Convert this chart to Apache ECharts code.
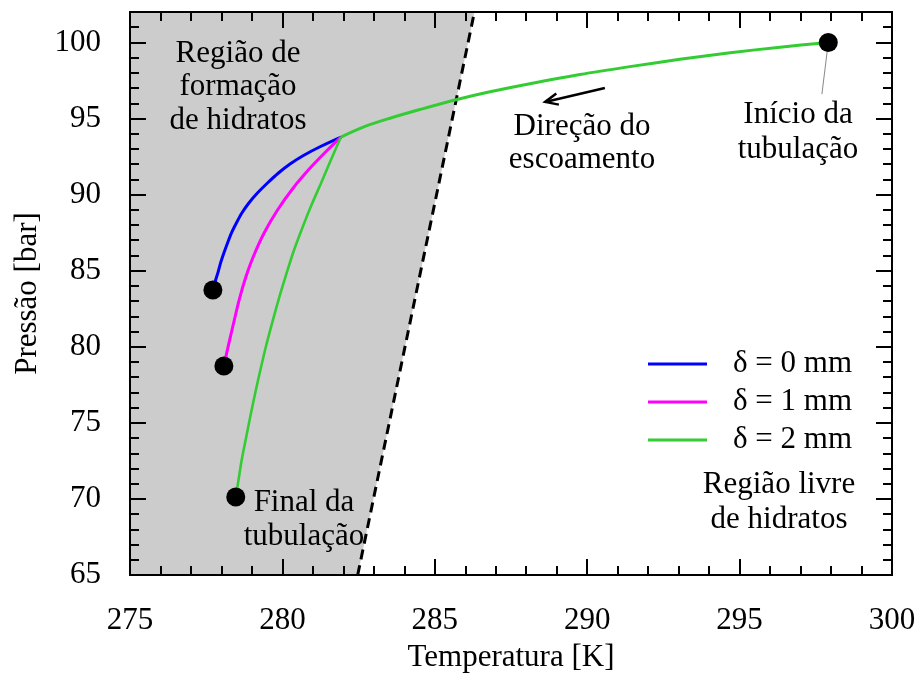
<!DOCTYPE html>
<html>
<head>
<meta charset="utf-8">
<script src="https://cdn.jsdelivr.net/npm/echarts@6/dist/echarts.min.js"></script>
<style>
  html, body { margin: 0; padding: 0; background: #fff; }
  #chart { width: 918px; height: 673px; }
</style>
</head>
<body>
<div id="chart"></div>
<script>
// Common path of the pipeline (inlet down to where the cases split)
const trunkT = [297.91, 296.33, 294.69, 293.04, 291.40, 289.76, 288.12, 286.81, 285.66, 284.51, 283.53, 282.71, 281.92];
const trunkP = [100.0, 99.69, 99.32, 98.89, 98.41, 97.89, 97.29, 96.76, 96.22, 95.59, 95.02, 94.48, 93.78];

// Branches after the split, one per deposit thickness
const blueT = [281.92, 281.25, 280.69, 280.25, 279.87, 279.51, 279.18, 278.90, 278.67, 278.49, 278.33, 278.20, 278.08, 277.97, 277.89, 277.80, 277.72];
const blueP = [93.78, 93.16, 92.57, 92.01, 91.42, 90.76, 90.10, 89.45, 88.79, 88.13, 87.48, 86.82, 86.16, 85.50, 84.91, 84.32, 83.73];

const magentaT = [281.92, 281.48, 280.94, 280.38, 279.84, 279.40, 279.04, 278.80, 278.58, 278.40, 278.23, 278.08];
const magentaP = [93.78, 92.93, 91.81, 90.50, 88.99, 87.48, 85.90, 84.58, 83.07, 81.56, 80.11, 78.73];

const greenT = [281.92, 281.59, 281.27, 280.94, 280.64, 280.36, 280.12, 279.89, 279.68, 279.48, 279.30, 279.13, 278.97, 278.82, 278.67, 278.56, 278.47];
const greenP = [93.78, 92.27, 90.76, 89.25, 87.74, 86.23, 84.72, 83.20, 81.69, 80.18, 78.67, 77.16, 75.65, 74.13, 72.62, 71.24, 70.13];

const seriesNames = ['δ = 0 mm', 'δ = 1 mm', 'δ = 2 mm'];

// Hydrate equilibrium boundary
const hydrateT = [282.47, 286.3];
const hydrateP = [65, 102];

// Inlet and outlet points
const endT = [297.91, 277.72, 278.08, 278.47];
const endP = [100.0, 83.73, 78.73, 70.13];

// Leader line for the inlet label
const leaderT = [297.91, 297.7];
const leaderP = [100.0, 96.6];

// Flow direction arrow (tail, head)
const arrowT = [290.58, 288.62];
const arrowP = [97.0, 96.09];

const xTicks = [275, 280, 285, 290, 295, 300];
const yTicks = [65, 70, 75, 80, 85, 90, 95, 100];

const FONT = '"Liberation Serif", "Times New Roman", serif';
const FS = 31;

function pairs(xs, ys) { return xs.map((x, i) => [x, ys[i]]); }

const chart = echarts.init(document.getElementById('chart'), null, { renderer: 'canvas' });

const axisLineStyle = { show: true, lineStyle: { color: '#000', width: 2 } };

function xAxisDef(pos, labels) {
  return {
    type: 'value', position: pos, min: xTicks[0], max: xTicks[xTicks.length - 1], interval: 5,
    z: 10,
    axisLine: axisLineStyle,
    axisTick: { show: true, inside: true, length: 16, lineStyle: { color: '#000', width: 2 } },
    minorTick: { show: true, splitNumber: 5, length: 9, lineStyle: { color: '#000', width: 2 } },
    splitLine: { show: false },
    axisLabel: {
      show: labels, fontFamily: FONT, fontSize: FS, color: '#000', margin: 30,
      formatter: v => (xTicks.indexOf(v) >= 0 ? String(v) : '')
    },
    name: labels ? 'Temperatura [K]' : '',
    nameLocation: 'middle', nameGap: 67,
    nameTextStyle: { fontFamily: FONT, fontSize: FS, color: '#000' }
  };
}

function yAxisDef(pos, major, labels) {
  return {
    type: 'value', position: pos, min: 65, max: 102, interval: major ? 5 : 1,
    z: 10,
    axisLine: axisLineStyle,
    axisTick: { show: true, inside: true, length: major ? 16 : 9, lineStyle: { color: '#000', width: 2 } },
    splitLine: { show: false },
    axisLabel: {
      show: labels, fontFamily: FONT, fontSize: FS, color: '#000', margin: 29,
      showMaxLabel: false,
      formatter: v => (yTicks.indexOf(v) >= 0 ? String(v) : '')
    },
    name: labels ? 'Pressão [bar]' : '',
    nameLocation: 'middle', nameGap: 86,
    nameTextStyle: { fontFamily: FONT, fontSize: FS, color: '#000' }
  };
}

const lineBase = { type: 'line', symbol: 'none', smooth: 0.3, z: 4 };

const option = {
  animation: false,
  backgroundColor: '#fff',
  textStyle: { fontFamily: FONT },
  grid: { left: 130, right: 26, top: 12, bottom: 98, containLabel: false, outerBoundsMode: 'none' },
  xAxis: [xAxisDef('bottom', true), xAxisDef('top', false)],
  yAxis: [
    yAxisDef('left', true, true),
    yAxisDef('left', false, false),
    yAxisDef('right', true, false),
    yAxisDef('right', false, false)
  ],
  legend: {
    data: seriesNames,
    orient: 'vertical',
    left: 648, top: 348.5, padding: 0,
    icon: 'rect',
    itemWidth: 59, itemHeight: 3, itemGap: 7,
    textStyle: { fontFamily: FONT, fontSize: FS, color: '#000', padding: [0, 0, 0, 21] }
  },
  series: [
    {
      // hydrate formation region
      type: 'custom', z: 1, silent: true,
      data: [[hydrateT[0], hydrateP[0]]],
      renderItem: (params, api) => {
        const pts = [
          api.coord([xTicks[0], hydrateP[0]]),
          api.coord([hydrateT[0], hydrateP[0]]),
          api.coord([hydrateT[1], hydrateP[1]]),
          api.coord([xTicks[0], hydrateP[1]])
        ];
        return { type: 'polygon', shape: { points: pts }, style: { fill: '#cccccc' } };
      }
    },
    {
      type: 'line', symbol: 'none', z: 3, silent: true,
      data: pairs(hydrateT, hydrateP),
      lineStyle: { color: '#000', width: 3, type: [10, 6] }
    },
    Object.assign({}, lineBase, {
      name: seriesNames[0], data: pairs(blueT, blueP),
      lineStyle: { color: '#0000ff', width: 3 }, itemStyle: { color: '#0000ff' }
    }),
    Object.assign({}, lineBase, {
      name: seriesNames[1], data: pairs(magentaT, magentaP),
      lineStyle: { color: '#ff00ff', width: 3 }, itemStyle: { color: '#ff00ff' }
    }),
    Object.assign({}, lineBase, {
      name: seriesNames[2], data: pairs(greenT, greenP),
      lineStyle: { color: '#33cc33', width: 2.6 }, itemStyle: { color: '#33cc33' }
    }),
    Object.assign({}, lineBase, {
      name: 'trunk', data: pairs(trunkT, trunkP), z: 5,
      lineStyle: { color: '#33cc33', width: 3 }, itemStyle: { color: '#33cc33' }
    }),
    {
      type: 'line', symbol: 'none', z: 5, silent: true,
      data: pairs(leaderT, leaderP),
      lineStyle: { color: '#888888', width: 1 }
    },
    {
      type: 'scatter', z: 6, symbol: 'circle', symbolSize: 19,
      data: pairs(endT, endP),
      itemStyle: { color: '#000', opacity: 1 }
    },
    {
      // flow direction arrow
      type: 'custom', z: 6, silent: true,
      data: [[arrowT[0], arrowP[0], arrowT[1], arrowP[1]]],
      renderItem: (params, api) => {
        const a = api.coord([api.value(0), api.value(1)]);
        const b = api.coord([api.value(2), api.value(3)]);
        const ang = Math.atan2(a[1] - b[1], a[0] - b[0]);
        const L = 14, w = 0.42;
        const h1 = [b[0] + L * Math.cos(ang + w), b[1] + L * Math.sin(ang + w)];
        const h2 = [b[0] + L * Math.cos(ang - w), b[1] + L * Math.sin(ang - w)];
        return {
          type: 'group',
          children: [
            { type: 'line', shape: { x1: a[0], y1: a[1], x2: b[0], y2: b[1] },
              style: { stroke: '#000', lineWidth: 2.5 } },
            { type: 'polyline', shape: { points: [h1, b, h2] },
              style: { stroke: '#000', fill: null, lineWidth: 2.5 } }
          ]
        };
      }
    }
  ],
  graphic: [
    { type: 'text', x: 238, y: 87, z: 100,
      style: { text: 'Região de\nformação\nde hidratos', font: FS + 'px ' + FONT, fill: '#000',
               align: 'center', verticalAlign: 'middle', lineHeight: 33.5 } },
    { type: 'text', x: 582, y: 143.5, z: 100,
      style: { text: 'Direção do\nescoamento', font: FS + 'px ' + FONT, fill: '#000',
               align: 'center', verticalAlign: 'middle', lineHeight: 33 } },
    { type: 'text', x: 798, y: 132.5, z: 100,
      style: { text: 'Início da\ntubulação', font: FS + 'px ' + FONT, fill: '#000',
               align: 'center', verticalAlign: 'middle', lineHeight: 35 } },
    { type: 'text', x: 304, y: 520, z: 100,
      style: { text: 'Final da\ntubulação', font: FS + 'px ' + FONT, fill: '#000',
               align: 'center', verticalAlign: 'middle', lineHeight: 34 } },
    { type: 'text', x: 779, y: 502.5, z: 100,
      style: { text: 'Região livre\nde hidratos', font: FS + 'px ' + FONT, fill: '#000',
               align: 'center', verticalAlign: 'middle', lineHeight: 35 } }
  ]
};

chart.setOption(option);
</script>
</body>
</html>
